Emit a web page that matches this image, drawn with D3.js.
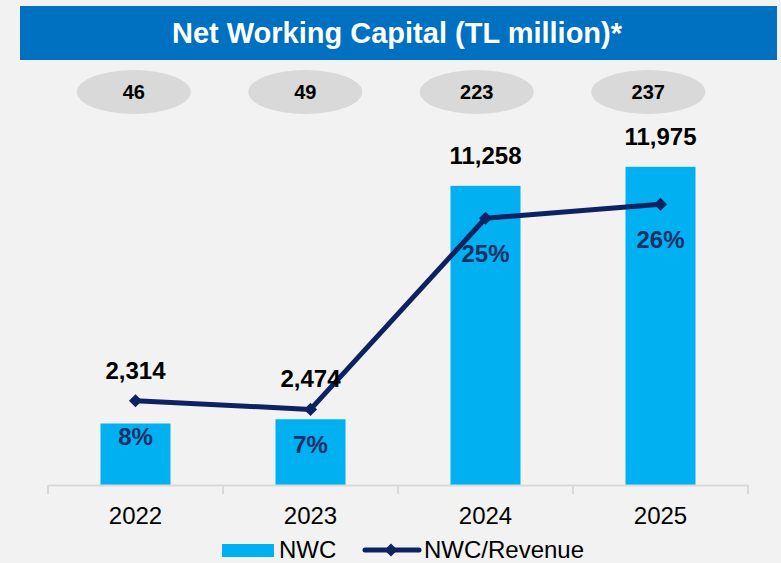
<!DOCTYPE html>
<html>
<head>
<meta charset="utf-8">
<script src="https://cdn.jsdelivr.net/npm/d3@7/dist/d3.min.js"></script>
<style>
  html, body { margin: 0; padding: 0; background: #f2f2f2; }
  svg { display: block; font-family: Arial, "Liberation Sans", sans-serif; }
</style>
</head>
<body>
<div id="chart"></div>
<script>
var years = ['2022', '2023', '2024', '2025'];
var nwc = [2314, 2474, 11258, 11975];
var ratio = [7.8, 7.0, 24.7, 26.0];
var ratioLabels = ['8%', '7%', '25%', '26%'];
var bubbles = ['46', '49', '223', '237'];
var title = 'Net Working Capital (TL million)*';

var width = 781, height = 563;
var base = 485;
var navy = '#0d2260', barBlue = '#00b0f0';

var svg = d3.select('#chart').append('svg')
  .attr('width', width)
  .attr('height', height);

svg.append('rect').attr('width', width).attr('height', height).attr('fill', '#f2f2f2');

// title banner
svg.append('rect')
  .attr('x', 20).attr('y', 6).attr('width', 757).attr('height', 54)
  .attr('fill', '#0070c0');
svg.append('text')
  .attr('x', 397).attr('y', 43)
  .attr('text-anchor', 'middle')
  .attr('fill', '#fff')
  .attr('font-weight', 'bold')
  .attr('font-size', 29)
  .text(title);

// scales
var x = d3.scaleBand().domain(years).range([48, 748]).padding(0);
var xb = d3.scaleBand().domain(years).range([48, 734]).padding(0);
var y = d3.scaleLinear().domain([0, 14000]).range([base, 113]);
var y2 = d3.scaleLinear().domain([0, 40]).range([base, 53]);
var barW = 70;

// grey bubbles
var bub = svg.selectAll('.bubble').data(bubbles).enter().append('g')
  .attr('class', 'bubble')
  .attr('transform', function(d, i) { return 'translate(' + (xb(years[i]) + xb.bandwidth() / 2) + ',92)'; });
bub.append('ellipse').attr('rx', 57).attr('ry', 22).attr('fill', '#d9d9d9');
bub.append('text')
  .attr('y', 7)
  .attr('text-anchor', 'middle')
  .attr('font-weight', 'bold')
  .attr('font-size', 20)
  .attr('fill', '#000')
  .text(function(d) { return d; });

// bars
svg.selectAll('.bar').data(nwc).enter().append('rect')
  .attr('class', 'bar')
  .attr('x', function(d, i) { return x(years[i]) + x.bandwidth() / 2 - barW / 2; })
  .attr('y', function(d) { return y(d); })
  .attr('width', barW)
  .attr('height', function(d) { return base - y(d); })
  .attr('fill', barBlue);

// x axis
var axis = svg.append('g').attr('transform', 'translate(0,' + base + ')')
  .call(d3.axisBottom(x).tickSize(0).tickFormat(''));
axis.select('.domain').attr('stroke', '#d9d9d9').attr('stroke-width', 2);
axis.selectAll('.edge').data(d3.range(years.length + 1)).enter().append('line')
  .attr('x1', function(d) { return 48 + d * x.step(); })
  .attr('x2', function(d) { return 48 + d * x.step(); })
  .attr('y1', 0).attr('y2', 9)
  .attr('stroke', '#d9d9d9').attr('stroke-width', 2);

svg.selectAll('.year').data(years).enter().append('text')
  .attr('x', function(d) { return x(d) + x.bandwidth() / 2; })
  .attr('y', 524)
  .attr('text-anchor', 'middle')
  .attr('font-size', 24)
  .attr('fill', '#000')
  .text(function(d) { return d; });

// ratio line
var cx = function(d, i) { return x(years[i]) + x.bandwidth() / 2; };
var line = d3.line().x(cx).y(function(d) { return y2(d); });
svg.append('path').datum(ratio)
  .attr('d', line)
  .attr('fill', 'none')
  .attr('stroke', navy)
  .attr('stroke-width', 5)
  .attr('stroke-linejoin', 'round');

var diamond = d3.symbol().type(d3.symbolDiamond2).size(110);
svg.selectAll('.pt').data(ratio).enter().append('path')
  .attr('class', 'pt')
  .attr('d', diamond)
  .attr('transform', function(d, i) { return 'translate(' + cx(d, i) + ',' + y2(d) + ')'; })
  .attr('fill', navy);

// value labels above
svg.selectAll('.val').data(nwc).enter().append('text')
  .attr('x', cx)
  .attr('y', function(d, i) { return Math.min(y(d), y2(ratio[i])) - 22; })
  .attr('text-anchor', 'middle')
  .attr('font-weight', 'bold')
  .attr('font-size', 24)
  .attr('fill', '#000')
  .text(function(d) { return d3.format(',')(d); });

// percent labels
svg.selectAll('.pct').data(ratio).enter().append('text')
  .attr('x', cx)
  .attr('y', function(d) { return y2(d) + 44; })
  .attr('text-anchor', 'middle')
  .attr('font-weight', 'bold')
  .attr('font-size', 24)
  .attr('fill', '#1a2f66')
  .text(function(d, i) { return ratioLabels[i]; });

// legend
var lg = svg.append('g');
lg.append('rect').attr('x', 222).attr('y', 544).attr('width', 52).attr('height', 13).attr('fill', barBlue);
lg.append('text').attr('x', 279).attr('y', 558).attr('font-size', 24).attr('fill', '#000').text('NWC');
lg.append('line').attr('x1', 365).attr('x2', 419).attr('y1', 550).attr('y2', 550)
  .attr('stroke', navy).attr('stroke-width', 5).attr('stroke-linecap', 'round');
lg.append('path').attr('d', diamond).attr('transform', 'translate(391,550)').attr('fill', navy);
lg.append('text').attr('x', 424).attr('y', 558).attr('font-size', 24).attr('fill', '#000').text('NWC/Revenue');
</script>
</body>
</html>
